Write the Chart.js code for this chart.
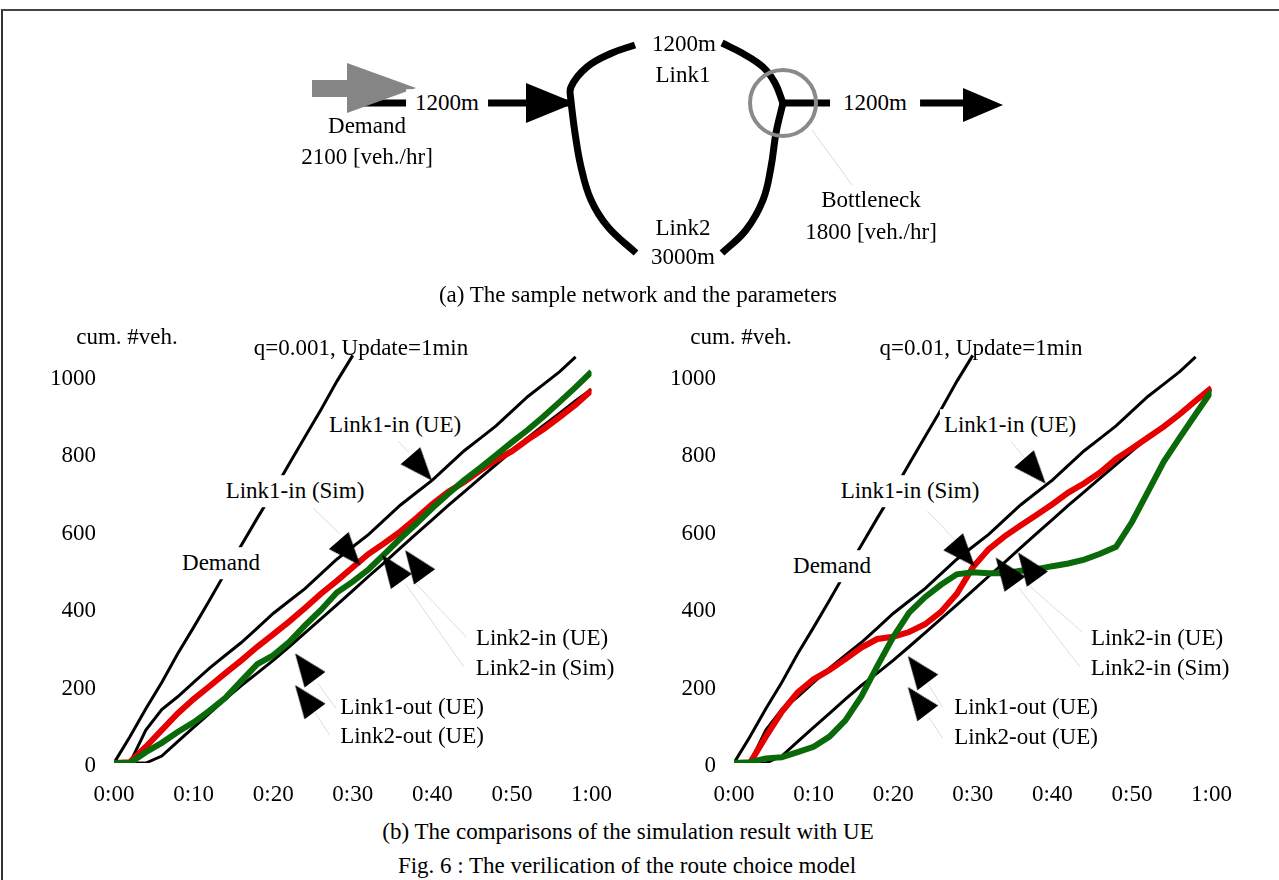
<!DOCTYPE html>
<html>
<head>
<meta charset="utf-8">
<title>Route choice verification</title>
<script src="https://cdn.jsdelivr.net/npm/chart.js@4.4.1/dist/chart.umd.min.js"></script>
<style>
  html, body { margin: 0; padding: 0; background: #fff; }
  #page {
    position: relative; width: 1279px; height: 880px; overflow: hidden; background: #fff;
    font-family: 'Liberation Serif', 'Times New Roman', serif; font-size: 23px; color: #000;
  }
  #frame {
    position: absolute; left: 1px; top: 9px; width: 1300px; height: 900px;
    border-left: 2px solid #333; border-top: 2px solid #444;
  }
  canvas { position: absolute; }
  .lbl { position: absolute; white-space: nowrap; line-height: 1.2; transform: translate(-50%, -50%); }
  .bg { background: #fff; padding: 2px 4px; }
</style>
</head>
<body>
<div id="page">
  <div id="frame"></div>
  <canvas id="network" width="1279" height="310" style="left:0;top:0;width:1279px;height:310px"></canvas>
  <canvas id="chartLeft" width="630" height="500" style="left:0;top:305px;width:630px;height:500px"></canvas>
  <canvas id="chartRight" width="630" height="500" style="left:620px;top:305px;width:630px;height:500px"></canvas>
</div>
<script>
'use strict';

// ---- data (minutes after 0:00, cumulative vehicles) ----
const timeMin = [0, 2, 4, 6, 8, 10, 12, 14, 16, 18, 20, 22, 24, 26, 28, 30,
                 32, 34, 36, 38, 40, 42, 44, 46, 48, 50, 52, 54, 56, 58, 60];

const demandCum = [0, 68, 140, 208, 282, 350, 420, 492, 562, 632, 700, 772, 842, 912, 985, 1052,
                   null, null, null, null, null, null, null, null, null, null, null, null, null, null, null];

const link1InUE = [0, 0, 85, 138, 171, 208, 245, 278, 311, 348, 386, 418, 450, 488, 526, 558,
                   590, 628, 666, 698, 730, 768, 806, 838, 870, 908, 946, 978, 1010, 1048, null];

// Link2-in (UE) = Link1-out (UE) = Link2-out (UE)
const linkOutUE = [0, 0, 0, 18, 55, 92, 128, 165, 200, 232, 265, 300, 336, 372, 408, 445,
                   482, 518, 555, 592, 628, 665, 700, 735, 770, 805, 840, 872, 903, 935, 965];

// q = 0.001
const link1InSimA = [0, 2, 42, 85, 128, 165, 198, 232, 265, 300, 332, 365, 400, 437, 470, 505,
                     540, 568, 598, 632, 668, 700, 725, 755, 782, 805, 835, 862, 893, 925, 962];
const link2InSimA = [0, 0, 28, 52, 80, 105, 135, 168, 212, 255, 278, 312, 355, 395, 440, 468,
                     500, 540, 580, 618, 658, 695, 730, 762, 795, 828, 860, 895, 932, 970, 1010];

// q = 0.01
const link1InSimB = [0, 0, 68, 132, 182, 216, 240, 268, 298, 320, 326, 338, 358, 390, 437, 505,
                     552, 585, 613, 640, 668, 698, 722, 750, 785, 812, 840, 868, 900, 935, 968];
const link2InSimB = [0, 2, 12, 15, 28, 42, 68, 110, 172, 250, 325, 388, 428, 460, 487, 492,
                     490, 490, 496, 500, 508, 515, 525, 540, 558, 622, 700, 778, 840, 900, 960];

const yTicks = [0, 200, 400, 600, 800, 1000];
const xTicks = [0, 10, 20, 30, 40, 50, 60];

// pointer arrows (label anchors) in chart units: Link1-in UE, Link1-in Sim, Link2-in UE, Link2-in Sim, Link1-out, Link2-out
const arrowTLeft = [38.6, 29.6, 37.8, 34.9, 24.0, 24.0];
const arrowVLeft = [761, 542, 515, 503, 249, 167];
const arrowTRight = [37.8, 28.9, 36.9, 34.1, 23.1, 23.1];
const arrowVRight = [753, 539, 509, 496, 242, 162];
const arrowAngle = [139, 139, -36, -36, -37, -37];

// faint leader lines from labels to arrows (pairs separated by null)
const leaderTLeft = [35.5, 37.1, null, 25.0, 28.4, null, 44.3, 37.6, null, 44.0, 36.6, null, 27.9, 25.6, null, 27.1, 25.3];
const leaderVLeft = [835, 800, null, 658, 591, null, 324, 470, null, 247, 463, null, 141, 206, null, 72, 129];
const leaderTRight = [34.5, 36.5, null, 24.3, 27.9, null, 43.8, 36.8, null, 43.5, 35.8, null, 26.2, 24.5, null, 26.2, 24.5];
const leaderVRight = [838, 787, null, 650, 573, null, 337, 463, null, 247, 452, null, 144, 200, null, 64, 118];

// network sketch, drawing units of the top panel
const demandShaft = [[312, 88.5], [352, 88.5]];
const entryLink = [[352, 103], [573, 103]];
const link1West = [[571, 102], [571, 87], [587, 67], [612, 53], [635, 45]];
const link1East = [[722, 43], [742, 53], [763, 67], [775, 83], [783, 103]];
const link2West = [[571, 102], [575, 133], [581, 167], [591, 200], [608, 227], [636, 253]];
const link2East = [[722, 253], [746, 230], [763, 200], [771, 167], [776, 133], [783, 103]];
const exitLink = [[783, 103], [965, 103]];
const bottleneckAt = [[783, 103]];
const bottleneckLeader = [[812, 130], [852, 185]];
const headsAt = [[381.5, 88], [550.5, 103], [983, 105]];

const FONT = "'Liberation Serif', 'Times New Roman', serif";

function pts(list) { return list.map(p => ({ x: p[0], y: p[1] })); }
function series(values) { return timeMin.map((t, i) => ({ x: t, y: values[i] })); }
function pairs(ts, vs) { return ts.map((t, i) => ({ x: t, y: vs[i] })); }

function arrowHead(w, h, color) {
  const c = document.createElement('canvas');
  c.width = w; c.height = h;
  const g = c.getContext('2d');
  g.fillStyle = color;
  g.beginPath();
  g.moveTo(w / 2, 0);
  g.lineTo(w, h);
  g.lineTo(0, h);
  g.closePath();
  g.fill();
  return c;
}

// ---- network panel ----
const grayHead = arrowHead(50, 69, '#858585');
const entryHead = arrowHead(40, 49, '#000');
const exitHead = arrowHead(34, 40, '#000');

function sketchLine(list, color, width, tension) {
  return {
    data: pts(list), borderColor: color, borderWidth: width, showLine: true,
    pointRadius: 0, tension: tension || 0, fill: false
  };
}

new Chart(document.getElementById('network'), {
  type: 'scatter',
  data: {
    datasets: [
      {
        data: pts(headsAt), showLine: false, pointRadius: 5,
        pointStyle: [grayHead, entryHead, exitHead], pointRotation: 90
      },
      {
        data: pts(bottleneckAt), showLine: false, pointStyle: 'circle', pointRadius: 33,
        pointBorderColor: '#8a8a8a', pointBorderWidth: 4, pointBackgroundColor: 'rgba(0,0,0,0)'
      },
      sketchLine(entryLink, '#000', 7),
      sketchLine(exitLink, '#000', 7),
      sketchLine(link1West, '#000', 7, 0.4),
      sketchLine(link1East, '#000', 7, 0.4),
      sketchLine(link2West, '#000', 7, 0.4),
      sketchLine(link2East, '#000', 7, 0.4),
      sketchLine(bottleneckLeader, '#dcdcdc', 1),
      sketchLine(demandShaft, '#858585', 17)
    ]
  },
  options: {
    responsive: false, animation: false,
    layout: { padding: 0, autoPadding: false },
    plugins: { legend: { display: false }, tooltip: { enabled: false } },
    scales: {
      x: { type: 'linear', min: 0, max: 1279, display: false },
      y: { type: 'linear', min: 0, max: 310, reverse: true, display: false }
    }
  }
});

// ---- cumulative plots ----
const pointerHead = arrowHead(26, 33, '#000');

function cumChart(id, red, green, arrT, arrV, leadT, leadV) {
  const line = (values, color, width) => ({
    data: series(values), borderColor: color, borderWidth: width,
    pointRadius: 0, tension: 0, fill: false, spanGaps: false
  });
  return new Chart(document.getElementById(id), {
    type: 'line',
    data: {
      datasets: [
        {
          data: pairs(arrT, arrV), showLine: false, pointRadius: 5,
          pointStyle: pointerHead, pointRotation: arrowAngle
        },
        {
          data: pairs(leadT, leadV), borderColor: '#dedede', borderWidth: 1,
          pointRadius: 0, spanGaps: false, fill: false
        },
        line(green, '#0a6a0a', 6),
        line(red, '#e60000', 6),
        line(link1InUE, '#000', 3),
        line(linkOutUE, '#000', 3),
        line(demandCum, '#000', 3)
      ]
    },
    options: {
      responsive: false, animation: false,
      layout: { padding: { left: 0, top: 2, right: 38, bottom: 0 }, autoPadding: false },
      plugins: { legend: { display: false }, tooltip: { enabled: false } },
      scales: {
        x: {
          type: 'linear', min: 0, max: 60,
          grid: { display: false, drawTicks: false }, border: { display: false },
          afterFit: s => { s.height = 42; },
          afterBuildTicks: s => { s.ticks = xTicks.map(v => ({ value: v })); },
          ticks: {
            padding: 18, autoSkip: false, maxRotation: 0, color: '#000',
            font: { family: FONT, size: 23 },
            callback: v => Math.floor(v / 60) + ':' + String(v % 60).padStart(2, '0')
          }
        },
        y: {
          type: 'linear', min: 0, max: 1100,
          grid: { display: false, drawTicks: false }, border: { display: false },
          afterFit: s => { s.width = 114; },
          afterBuildTicks: s => { s.ticks = yTicks.map(v => ({ value: v })); },
          ticks: {
            padding: 18, color: '#000', labelOffset: 3,
            font: { family: FONT, size: 23 },
            callback: v => String(v)
          }
        }
      }
    }
  });
}

cumChart('chartLeft', link1InSimA, link2InSimA, arrowTLeft, arrowVLeft, leaderTLeft, leaderVLeft);
cumChart('chartRight', link1InSimB, link2InSimB, arrowTRight, arrowVRight, leaderTRight, leaderVRight);

// ---- text (page layout) ----
const textLayout = [
  ['1200m', 447, 103, 'wide'],
  ['Demand', 367, 126],
  ['2100 [veh./hr]', 367, 157],
  ['1200m', 684, 44],
  ['Link1', 683, 75],
  ['Link2', 683, 228],
  ['3000m', 683, 257],
  ['1200m', 875, 103, 'wider'],
  ['Bottleneck', 871, 200],
  ['1800 [veh./hr]', 871, 232],
  ['(a) The sample network and the parameters', 638, 295],

  ['cum. #veh.', 127, 337],
  ['q=0.001, Update=1min', 361, 348],
  ['Link1-in (UE)', 395, 425, 'bg'],
  ['Link1-in (Sim)', 295, 491, 'bg'],
  ['Demand', 221, 563, 'bg'],
  ['Link2-in (UE)', 542, 638],
  ['Link2-in (Sim)', 545, 668],
  ['Link1-out (UE)', 412, 707],
  ['Link2-out (UE)', 412, 736],

  ['cum. #veh.', 741, 337],
  ['q=0.01, Update=1min', 981, 348],
  ['Link1-in (UE)', 1010, 425, 'bg'],
  ['Link1-in (Sim)', 910, 491, 'bg'],
  ['Demand', 832, 566, 'bg'],
  ['Link2-in (UE)', 1157, 638],
  ['Link2-in (Sim)', 1160, 668],
  ['Link1-out (UE)', 1026, 707],
  ['Link2-out (UE)', 1026, 737],

  ['(b) The comparisons of the simulation result with UE', 628, 832],
  ['Fig. 6 : The verilication of the route choice model', 627, 866]
];

const page = document.getElementById('page');
textLayout.forEach(([text, x, y, kind]) => {
  const d = document.createElement('div');
  d.className = 'lbl' + (kind ? ' bg' : '');
  if (kind === 'wide') d.style.padding = '0 9px';
  if (kind === 'wider') d.style.padding = '0 13px';
  d.style.left = x + 'px';
  d.style.top = y + 'px';
  d.textContent = text;
  page.appendChild(d);
});
</script>
</body>
</html>
